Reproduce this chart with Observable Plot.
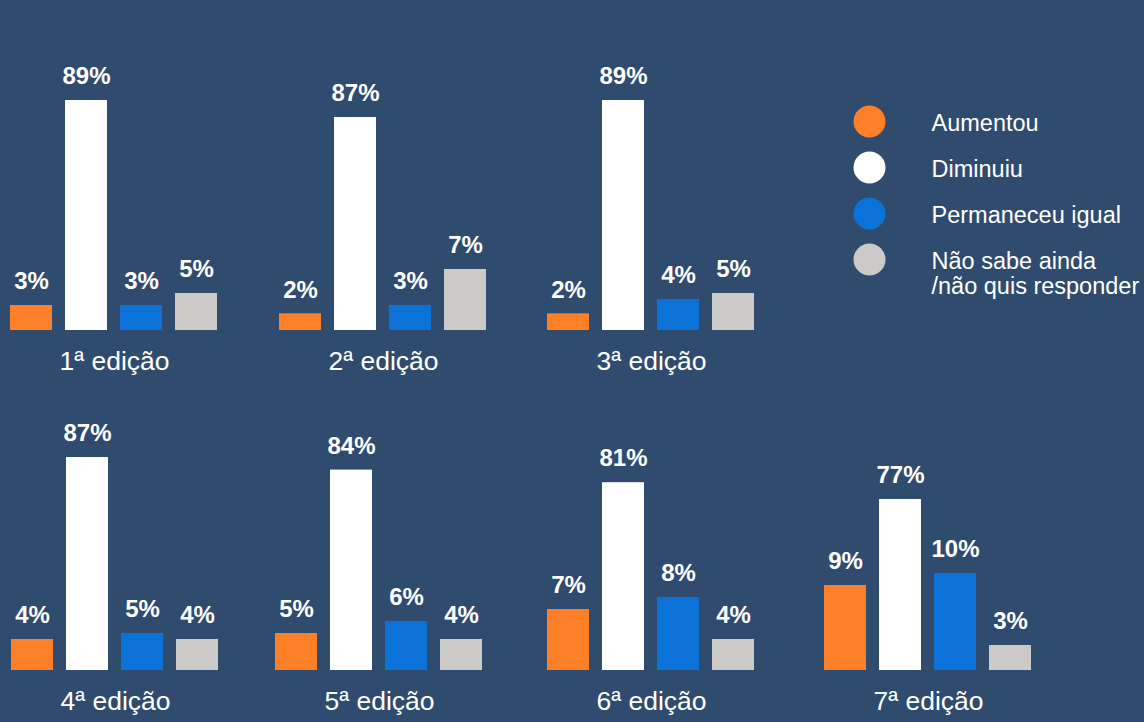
<!DOCTYPE html>
<html><head><meta charset="utf-8">
<script src="https://cdn.jsdelivr.net/npm/d3@7"></script>
<script src="https://cdn.jsdelivr.net/npm/@observablehq/plot@0.6"></script>
<style>
html,body{margin:0;padding:0;background:#2f4b6e;}
#chart{position:relative;width:1144px;height:722px;background:#2f4b6e;overflow:hidden;}
#chart svg{position:absolute;}
</style></head><body><div id="chart"></div>
<script>
// ---- data ----
const editions = ["1ª edição", "2ª edição", "3ª edição", "4ª edição", "5ª edição", "6ª edição", "7ª edição"];
const answers = ["Aumentou", "Diminuiu", "Permaneceu igual", "Não sabe ainda\n/não quis responder"];
const aumentou   = [3, 2, 2, 4, 5, 7, 9];
const diminuiu   = [89, 87, 89, 87, 84, 81, 77];
const permaneceu = [3, 3, 4, 5, 6, 8, 10];
const naoSabe    = [5, 7, 5, 4, 4, 4, 3];
const colors = ["#fd8029", "#ffffff", "#0b73d7", "#cccac9"];

// ---- layout (styles, not data) ----
const font = "'Liberation Sans', Arial, Helvetica, sans-serif";
const panelLeft = [10, 279, 547, 11, 275, 547, 824];
const panelRow  = [0, 0, 0, 1, 1, 1, 1];
const rowTop = [0, 385];
const rowHeight = [385, 337];
const rowBase = [330, 285];
// piecewise (non-linear) value scale, as in the original infographic
const yKnots = [0, 3, 5, 10, 77, 87, 89];
const yHeights = [0, 25, 37, 97, 171, 213, 230];

const series = [aumentou, diminuiu, permaneceu, naoSabe];
const root = document.getElementById("chart");

editions.forEach((ed, i) => {
  const rows = answers.map((a, k) => ({edition: ed, answer: a, value: series[k][i]}));
  const r = panelRow[i];
  const base = rowBase[r];
  const svg = Plot.plot({
    width: 250,
    height: rowHeight[r],
    marginLeft: 20,
    marginRight: 22,
    marginTop: 0,
    marginBottom: 0,
    style: {background: "none", overflow: "visible", fontFamily: font, color: "#fff"},
    x: {type: "band", domain: answers, range: [20, 228], paddingInner: 0.236, paddingOuter: 0, axis: null},
    y: {type: "linear", domain: yKnots, range: yHeights.map(h => base - h), axis: null},
    color: {domain: answers, range: colors},
    marks: [
      Plot.barY(rows, {x: "answer", y: "value", fill: "answer"}),
      Plot.text(rows, {x: "answer", y: "value", text: d => d.value + "%", fill: "#fff",
        fontWeight: "bold", fontSize: 24, lineAnchor: "middle", dy: -24}),
      Plot.text([ed], {y: () => 0, text: d => d, fill: "#fff", fontSize: 26.5,
        lineAnchor: "middle", dy: 31})
    ]
  });
  svg.style.left = (panelLeft[i] - 20) + "px";
  svg.style.top = rowTop[r] + "px";
  root.appendChild(svg);
});

// ---- legend ----
const legend = Plot.plot({
  width: 314,
  height: 240,
  marginLeft: 39,
  marginRight: 0,
  marginTop: 0,
  marginBottom: 0,
  style: {background: "none", overflow: "visible", fontFamily: font, color: "#fff"},
  y: {type: "point", domain: answers, range: [42, 181], padding: 0, axis: null},
  color: {domain: answers, range: colors},
  marks: [
    Plot.dot(answers, {y: d => d, fill: d => d, r: 16, frameAnchor: "left"}),
    Plot.text(answers, {y: d => d, text: d => d, frameAnchor: "left", dx: 62, textAnchor: "start",
      fill: "#fff", fontSize: 23.5, lineAnchor: "top", dy: -8.5, lineHeight: 1.07})
  ]
});
legend.style.left = "830px";
legend.style.top = "78px";
root.appendChild(legend);
</script>
</body></html>
